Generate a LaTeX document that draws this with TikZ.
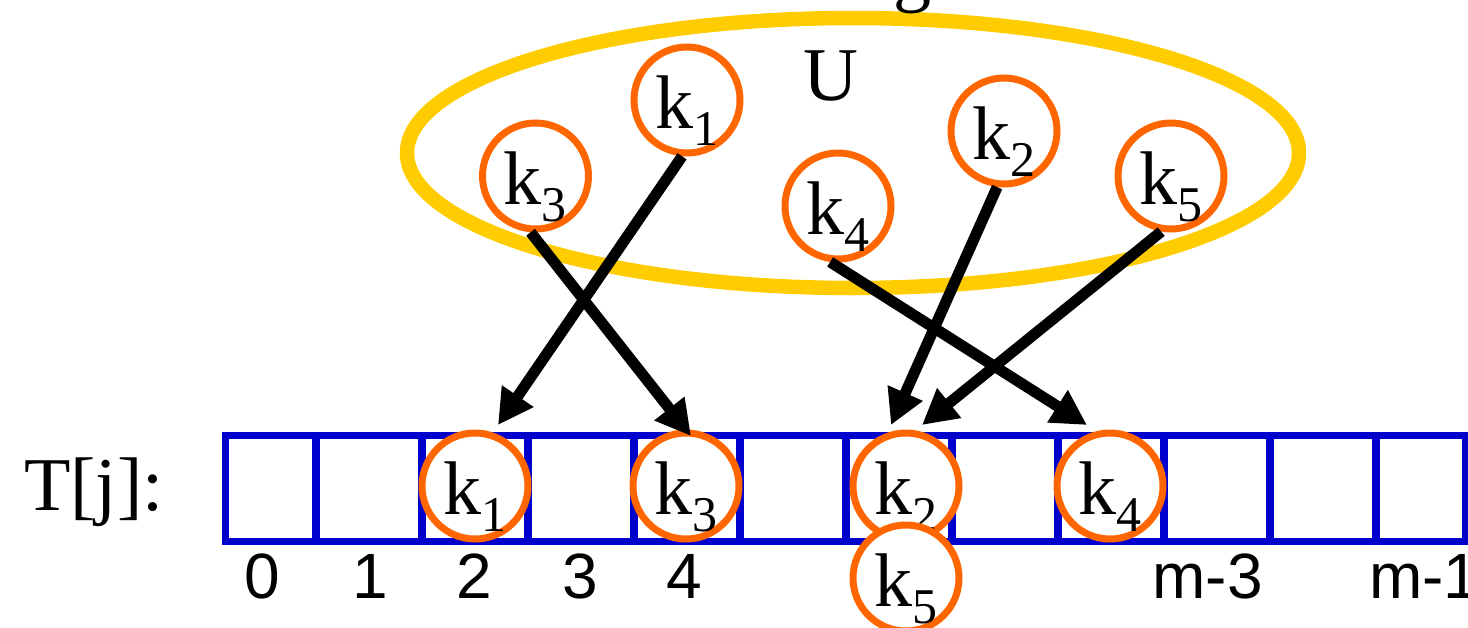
\documentclass[tikz,border=0pt]{standalone}
\usepackage{fontspec}
\setmainfont{Liberation Serif}
\newfontfamily\arialfont{Liberation Sans}
\usetikzlibrary{arrows.meta,calc}
\definecolor{ellyellow}{HTML}{FFCC00}
\definecolor{keyorange}{HTML}{FF6600}
\definecolor{tblblue}{HTML}{0000CC}
\newcommand\ksub[1]{k\raisebox{-17pt}{\fontsize{50}{50}\selectfont #1}}
\begin{document}
\begin{tikzpicture}[x=1pt,y=-1pt,
  keycirc/.style={circle, draw=keyorange, line width=7pt, minimum size=106pt, inner sep=0pt, fill=white},
  keytext/.style={anchor=base west, inner sep=0pt, font=\fontsize{76}{76}\selectfont},
  serif76/.style={inner sep=0pt, font=\fontsize{76}{76}\selectfont},
  idxlabel/.style={anchor=base, inner sep=0pt, font=\arialfont\fontsize{64}{64}\selectfont},
  tbl/.style={draw=tblblue, line width=7.6pt},
  hasharrow/.style={line width=11pt, -{Triangle[length=35pt,width=36pt]}},
  universe/.style={draw=ellyellow, line width=14.5pt}
]
\clip (0,0) rectangle (1468,627);
\useasboundingbox (0,0) rectangle (1468,627);

% universe
\draw[universe] (853,153) ellipse [x radius=446, y radius=135];
\node[serif76, anchor=base] (U) at (831,100) {U};
\node[serif76, anchor=base west] (g) at (893,-3) {g};

% table
\node[serif76, anchor=base west] (Tlab) at (24,510) {T[j]:};
\draw[tbl] (225.5,435.5) rectangle (1466,541.5);
\foreach \x in {316,422,528,634,740,846,952,1058,1164,1270,1376}
  \draw[tbl] (\x,435.5) -- (\x,541.5);

% index labels
\node[idxlabel] (i0) at (262.5,598) {0};
\node[idxlabel] (i1) at (370,598) {1};
\node[idxlabel] (i2) at (474,598) {2};
\node[idxlabel] (i3) at (580,598) {3};
\node[idxlabel] (i4) at (684,598) {4};
\node[idxlabel] (im3) at (1207.5,598) {m-3};
\node[idxlabel, anchor=base west] (im1) at (1369,598) {m-1};

% keys in the table
\node[keycirc] (b1) at (475,486) {};
\node[keytext] at ([xshift=-32pt,yshift=-28pt]b1.center) {\ksub{1}};
\node[keycirc] (b3) at (686,486) {};
\node[keytext] at ([xshift=-32pt,yshift=-28pt]b3.center) {\ksub{3}};
\node[keycirc] (b4) at (1110,486) {};
\node[keytext] at ([xshift=-32pt,yshift=-28pt]b4.center) {\ksub{4}};
\node[keycirc] (b2) at (906,486) {};
\node[keytext] at ([xshift=-32pt,yshift=-28pt]b2.center) {\ksub{2}};
\node[keycirc] (b5) at (906,578) {};
\node[keytext] at ([xshift=-32pt,yshift=-28pt]b5.center) {\ksub{5}};

% keys in the universe
\node[keycirc] (t1) at (687,100) {};
\node[keytext] at ([xshift=-32pt,yshift=-28pt]t1.center) {\ksub{1}};
\node[keycirc] (t3) at (535.5,176) {};
\node[keytext] at ([xshift=-32pt,yshift=-28pt]t3.center) {\ksub{3}};
\node[keycirc] (t4) at (838,206) {};
\node[keytext] at ([xshift=-32pt,yshift=-28pt]t4.center) {\ksub{4}};
\node[keycirc] (t2) at (1004,131) {};
\node[keytext] at ([xshift=-32pt,yshift=-28pt]t2.center) {\ksub{2}};
\node[keycirc] (t5) at (1171,176) {};
\node[keytext] at ([xshift=-32pt,yshift=-28pt]t5.center) {\ksub{5}};

% arrow targets
\coordinate (a1) at (498,425);
\coordinate (a3) at (691,436);
\coordinate (a4) at (1087,425);
\coordinate (a2) at (891,425);
\coordinate (a5) at (922,425);

% hash arrows
\draw[hasharrow] (t1.-95) -- (a1);
\draw[hasharrow] (t3.-95) -- (a3);
\draw[hasharrow] (t4.-98) -- (a4);
\draw[hasharrow] (t2.-97) -- (a2);
\draw[hasharrow] (t5.-100) -- (a5);
\end{tikzpicture}
\end{document}
